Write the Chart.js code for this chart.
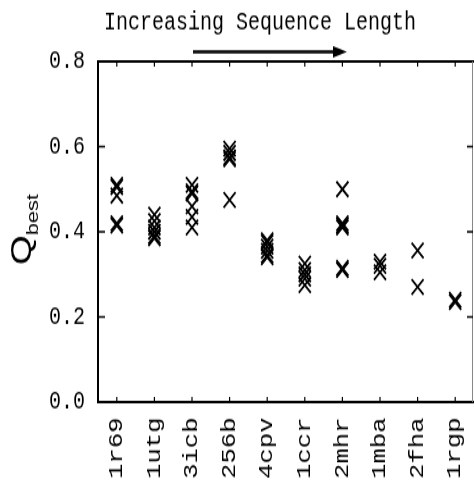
<!DOCTYPE html>
<html lang="en">
<head>
    <meta charset="UTF-8">
    <title>Q best by protein</title>
    <script src="https://cdn.jsdelivr.net/npm/chart.js"></script>
    <style>
        body { margin: 0; background: #fff; }
    </style>
</head>
<body>
<!-- drawn at 474x378 and stretched to 474x484, like the scanned original -->
<canvas id="qChart" width="474" height="378" style="width:474px;height:484px;display:block"></canvas>
<script>
// proteins, ordered by increasing sequence length
const proteins = ['1r69', '1utg', '3icb', '256b', '4cpv', '1ccr', '2mhr', '1mba', '2fha', '1rgp'];

// Q best of each run, per protein
const q1r69 = [0.51, 0.505, 0.485, 0.42, 0.415];
const q1utg = [0.44, 0.425, 0.41, 0.40, 0.39, 0.385];
const q3icb = [0.51, 0.495, 0.49, 0.46, 0.435, 0.41];
const q256b = [0.595, 0.585, 0.575, 0.57, 0.475];
const q4cpv = [0.38, 0.375, 0.365, 0.355, 0.345, 0.34];
const q1ccr = [0.325, 0.31, 0.30, 0.29, 0.275];
const q2mhr = [0.50, 0.42, 0.415, 0.41, 0.315, 0.31];
const q1mba = [0.33, 0.32, 0.305];
const q2fha = [0.356, 0.27];
const q1rgp = [0.24, 0.235];

const yTicks = [0.0, 0.2, 0.4, 0.6, 0.8];

const groups = [q1r69, q1utg, q3icb, q256b, q4cpv, q1ccr, q2mhr, q1mba, q2fha, q1rgp];
const points = [];
groups.forEach(function(vals, i) {
    vals.forEach(function(v) { points.push({x: proteins[i], y: v}); });
});

const mono = 'Liberation Mono, Courier New, monospace';

// box, inward ticks, title with arrow and the Q_best label
const decorations = {
    id: 'decorations',
    afterDraw(chart) {
        const ctx = chart.ctx;
        const a = chart.chartArea;
        const x = chart.scales.x;
        const y = chart.scales.y;
        ctx.save();

        // top edge and faint right edge
        ctx.strokeStyle = '#000';
        ctx.lineWidth = 2;
        ctx.beginPath();
        ctx.moveTo(a.left - 1, a.top);
        ctx.lineTo(a.right, a.top);
        ctx.stroke();
        ctx.strokeStyle = '#888';
        ctx.lineWidth = 1;
        ctx.beginPath();
        ctx.moveTo(a.right - 1.5, a.top);
        ctx.lineTo(a.right - 1.5, a.bottom);
        ctx.stroke();

        // y ticks pointing in, both sides
        ctx.strokeStyle = '#000';
        ctx.lineWidth = 1.5;
        yTicks.slice(1, -1).forEach(function(v) {
            const py = y.getPixelForValue(v);
            ctx.beginPath();
            ctx.moveTo(a.left, py); ctx.lineTo(a.left + 7, py);
            ctx.moveTo(a.right - 1, py); ctx.lineTo(a.right - 7, py);
            ctx.stroke();
        });

        // category ticks, top and bottom
        ctx.lineWidth = 1.2;
        proteins.forEach(function(p, i) {
            const px = x.getPixelForValue(i);
            ctx.beginPath();
            ctx.moveTo(px, a.top); ctx.lineTo(px, a.top + 4);
            ctx.moveTo(px, a.bottom); ctx.lineTo(px, a.bottom - 4);
            ctx.stroke();
        });

        // title and arrow
        ctx.fillStyle = '#000';
        ctx.font = '20px ' + mono;
        ctx.textAlign = 'center';
        ctx.textBaseline = 'alphabetic';
        ctx.fillText('Increasing Sequence Length', 260, 23);

        ctx.lineWidth = 2.5;
        ctx.beginPath();
        ctx.moveTo(193, 40.5);
        ctx.lineTo(336, 40.5);
        ctx.stroke();
        ctx.beginPath();
        ctx.moveTo(347, 40.5);
        ctx.lineTo(333, 36);
        ctx.lineTo(333, 45);
        ctx.closePath();
        ctx.fill();

        // y axis label Q_best
        ctx.translate(31, 207);
        ctx.rotate(-Math.PI / 2);
        ctx.textAlign = 'left';
        ctx.font = '30px Liberation Sans, Arial, sans-serif';
        ctx.fillText('Q', 0, 0);
        const qw = ctx.measureText('Q').width;
        ctx.font = '17px Liberation Sans, Arial, sans-serif';
        ctx.fillText('best', qw, 7);

        ctx.restore();
    }
};

const ctx = document.getElementById('qChart').getContext('2d');
new Chart(ctx, {
    type: 'scatter',
    data: {
        datasets: [{
            label: 'Q best',
            data: points,
            pointStyle: 'crossRot',
            pointRadius: 8.5,
            pointBorderWidth: 1.8,
            borderColor: '#000',
            backgroundColor: '#000'
        }]
    },
    options: {
        responsive: false,
        animation: false,
        devicePixelRatio: 1,
        layout: {
            autoPadding: false,
            padding: { top: 48, left: 0, right: 0, bottom: 0 }
        },
        plugins: {
            legend: { display: false },
            tooltip: { enabled: false }
        },
        scales: {
            x: {
                type: 'category',
                labels: proteins,
                offset: true,
                grid: { display: false, drawTicks: false },
                border: { display: true, color: '#000', width: 2 },
                ticks: {
                    color: '#000',
                    font: { family: mono, size: 20 },
                    minRotation: 90,
                    maxRotation: 90,
                    padding: 12
                },
                afterFit: function(scale) {
                    scale.height = 64;
                    scale.paddingLeft = 0;
                    scale.paddingRight = 0;
                }
            },
            y: {
                min: 0,
                max: 0.8,
                afterBuildTicks: function(scale) {
                    scale.ticks = yTicks.map(function(v) { return {value: v}; });
                },
                grid: { display: false, drawTicks: false },
                border: { display: true, color: '#000', width: 2 },
                ticks: {
                    color: '#000',
                    font: { family: mono, size: 20 },
                    padding: 13,
                    callback: function(v) { return Number(v).toFixed(1); }
                },
                afterFit: function(scale) {
                    scale.width = 98;
                    scale.paddingTop = 0;
                    scale.paddingBottom = 0;
                }
            }
        }
    },
    plugins: [decorations]
});
</script>
</body>
</html>
